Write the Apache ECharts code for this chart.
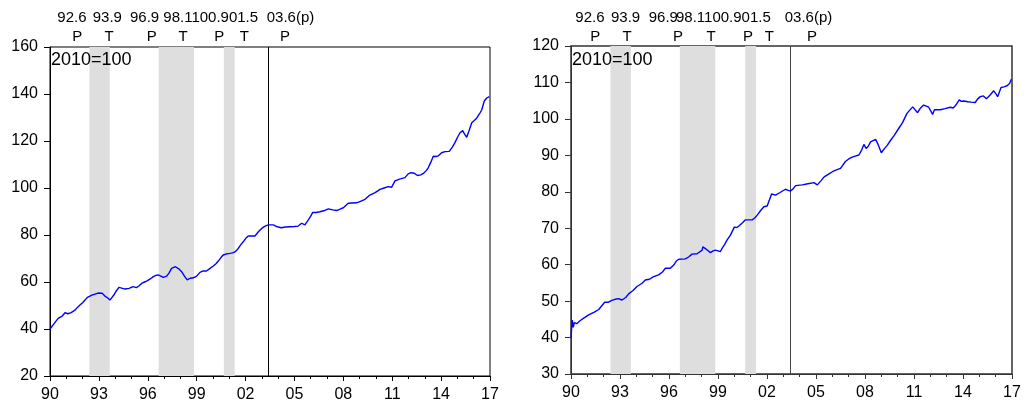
<!DOCTYPE html>
<html>
<head>
<meta charset="utf-8">
<script src="https://cdn.jsdelivr.net/npm/echarts@6/dist/echarts.min.js"></script>
<style>html,body{margin:0;padding:0;background:#fff}#c{width:1024px;height:404px}</style>
</head>
<body>
<div id="c"></div>
<script>
// ---- data ----
const years1 = [1990.00,1990.25,1990.50,1990.75,1990.92,1991.10,1991.30,1991.53,1991.70,1991.84,1992.00,1992.15,1992.30,1992.40,1992.60,1992.76,1992.95,1993.07,1993.20,1993.37,1993.55,1993.68,1993.80,1993.95,1994.10,1994.23,1994.40,1994.60,1994.85,1995.10,1995.30,1995.45,1995.62,1995.80,1995.93,1996.15,1996.34,1996.50,1996.64,1996.80,1996.95,1997.16,1997.30,1997.46,1997.70,1997.90,1998.08,1998.25,1998.42,1998.60,1998.80,1999.00,1999.20,1999.40,1999.60,1999.80,2000.02,2000.20,2000.33,2000.50,2000.63,2000.85,2001.04,2001.20,2001.35,2001.50,2001.70,2001.86,2002.00,2002.17,2002.40,2002.58,2002.80,2002.99,2003.20,2003.39,2003.70,2003.95,2004.20,2004.45,2004.72,2005.00,2005.23,2005.44,2005.64,2005.85,2006.00,2006.12,2006.35,2006.56,2006.80,2007.08,2007.35,2007.59,2007.80,2008.00,2008.30,2008.55,2008.82,2009.05,2009.33,2009.63,2009.95,2010.25,2010.50,2010.75,2010.96,2011.17,2011.45,2011.78,2011.98,2012.15,2012.34,2012.55,2012.75,2012.91,2013.10,2013.21,2013.37,2013.52,2013.70,2013.83,2013.93,2014.03,2014.24,2014.50,2014.70,2014.85,2015.00,2015.16,2015.32,2015.45,2015.57,2015.72,2015.88,2016.05,2016.18,2016.35,2016.49,2016.65,2016.80,2016.96];
const vals1 = [40.0,42.3,44.5,45.5,46.9,46.5,47.0,48.0,49.3,50.2,51.2,52.3,53.5,54.2,54.5,54.8,55.3,55.7,55.2,54.0,53.2,52.3,53.0,54.8,56.5,57.7,57.4,57.0,57.3,58.0,57.6,58.3,59.4,60.0,60.4,61.3,62.3,62.8,63.0,62.5,62.0,62.5,63.8,65.8,66.5,65.6,64.4,62.5,60.9,61.6,61.8,62.5,64.1,64.7,64.7,65.7,66.8,67.9,68.9,70.5,71.5,72.0,72.2,72.4,72.8,73.8,75.8,77.1,78.5,79.6,79.6,79.6,81.5,82.8,83.8,84.3,84.3,83.5,83.1,83.4,83.5,83.6,83.8,85.0,84.3,86.4,88.0,89.6,89.6,89.9,90.3,91.1,90.7,90.4,91.0,91.6,93.5,93.6,93.7,94.3,95.2,97.0,98.0,99.4,100.0,100.6,100.3,103.0,103.8,104.4,106.0,106.5,106.3,105.3,105.6,106.2,107.5,108.6,111.0,113.5,113.4,113.7,113.8,115.0,115.5,115.6,117.5,119.3,121.5,123.5,124.4,122.8,121.6,124.5,127.8,128.8,129.7,131.5,133.2,137.0,138.3,138.9];

const years2 = [1990.00,1990.08,1990.14,1990.20,1990.35,1990.55,1990.80,1991.08,1991.40,1991.70,1992.06,1992.30,1992.50,1992.70,1992.90,1993.12,1993.35,1993.53,1993.80,1994.04,1994.35,1994.55,1994.80,1995.06,1995.37,1995.60,1995.78,1996.08,1996.19,1996.29,1996.45,1996.60,1997.00,1997.20,1997.41,1997.72,1998.03,1998.07,1998.23,1998.40,1998.53,1998.70,1998.84,1999.00,1999.15,1999.25,1999.40,1999.56,1999.76,2000.00,2000.15,2000.28,2000.50,2000.68,2001.09,2001.25,2001.40,2001.60,2001.81,2002.01,2002.15,2002.28,2002.52,2002.80,2003.13,2003.30,2003.44,2003.60,2003.75,2004.16,2004.50,2004.87,2005.08,2005.30,2005.50,2005.75,2006.00,2006.25,2006.50,2006.80,2007.00,2007.22,2007.40,2007.63,2007.80,2007.93,2008.07,2008.20,2008.34,2008.65,2008.80,2009.00,2009.20,2009.37,2009.55,2009.78,2010.08,2010.29,2010.57,2010.70,2010.92,2011.00,2011.22,2011.40,2011.59,2011.75,2011.90,2012.05,2012.14,2012.25,2012.37,2012.61,2012.90,2013.22,2013.40,2013.53,2013.77,2013.90,2014.04,2014.30,2014.50,2014.75,2014.90,2015.06,2015.25,2015.43,2015.65,2015.88,2016.00,2016.12,2016.33,2016.50,2016.70,2016.85,2016.96];
const vals2 = [40.1,44.8,42.8,44.1,43.8,44.6,45.4,46.2,46.9,47.7,49.7,49.7,50.2,50.5,50.7,50.3,51.0,52.0,52.9,54.0,54.9,55.8,56.0,56.7,57.2,58.0,59.0,59.0,58.8,59.9,61.0,61.5,61.6,62.1,62.9,63.0,64.0,64.9,64.4,63.8,63.3,63.8,64.0,63.8,63.6,64.5,65.5,66.8,68.1,70.3,70.2,70.6,71.5,72.3,72.3,72.8,73.6,74.8,75.9,76.1,77.8,79.4,79.1,79.8,80.7,80.4,80.2,80.8,81.7,81.9,82.2,82.5,81.9,83.0,84.1,84.8,85.5,86.0,86.4,88.3,89.0,89.5,89.8,90.1,91.5,93.0,91.9,92.5,93.7,94.4,93.0,90.7,91.9,92.8,94.0,95.4,97.5,98.9,101.5,102.2,103.3,103.4,101.7,103.0,103.8,103.5,103.2,102.0,101.2,102.5,102.9,102.5,102.8,103.2,103.0,103.6,105.2,104.8,104.9,104.7,104.6,104.5,105.5,106.1,106.3,105.5,106.5,107.7,107.0,106.1,108.6,108.8,109.1,109.7,110.9];

const bandStart = [1992.417, 1996.667, 2000.667];
const bandEnd   = [1993.667, 1998.833, 2001.333];
const lastPeak = 2003.417;
const cycleText = ['92.6', '93.9', '96.9', '98.1100.901.5', '03.6(p)'];
const cycleLetters = ['P', 'T', 'P', 'T', 'P', 'T', 'P'];
const baseLabel = '2010=100';

// ---- layout (pixels) ----
const textX = [[57.3, 92.7, 130, 163.3, 266.7], [575.3, 611, 648.7, 676, 784.7]];
const letterX = [[77.3, 109, 151.7, 183, 219.3, 244.3, 285], [595.3, 627, 678, 711, 748, 769.3, 812]];
const FONT = '"Liberation Sans", Arial, sans-serif';

function pairs(xs, ys) { return xs.map((x, i) => [x, ys[i]]); }
const areas = bandStart.map((s, i) => [{ xAxis: s }, { xAxis: bandEnd[i] }]);

function xAx(idx, col) {
  return {
    type: 'value', gridIndex: idx, min: 1990, max: 2017, interval: 3,
    axisLine: { show: true, lineStyle: { color: col, width: 1 } },
    axisTick: { show: true, length: 5, lineStyle: { color: col } },
    minorTick: { show: true, splitNumber: 3, length: 3, lineStyle: { color: col } },
    splitLine: { show: false },
    axisLabel: { color: '#000', fontSize: 16, fontFamily: FONT, margin: 11,
      formatter: v => String(Math.round(v) % 100).padStart(2, '0') }
  };
}
function yAx(idx, min, max, step, col) {
  return {
    type: 'value', gridIndex: idx, min: min, max: max, interval: step,
    axisLine: { show: true, lineStyle: { color: col, width: 1 } },
    axisTick: { show: true, length: 6, lineStyle: { color: col } },
    splitLine: { show: false },
    axisLabel: { color: '#000', fontSize: 16, fontFamily: FONT, margin: 12 }
  };
}
function series(idx, data, lineCol) {
  return {
    type: 'line', xAxisIndex: idx, yAxisIndex: idx, data: data,
    showSymbol: false, symbol: 'none', animation: false, z: 5,
    lineStyle: { color: '#0000ff', width: 1.4 },
    markArea: { silent: true, itemStyle: { color: '#dedede' }, data: areas },
    markLine: { silent: true, symbol: 'none', label: { show: false },
      lineStyle: { color: lineCol, width: 1, type: 'solid' }, data: [{ xAxis: lastPeak }] }
  };
}

const graphic = [];
[0, 1].forEach(g => {
  textX[g].forEach((x, i) => graphic.push({ type: 'text', x: x, y: 18,
    style: { text: cycleText[i], fill: '#000', font: '15px ' + FONT, align: 'left', verticalAlign: 'middle' } }));
  letterX[g].forEach((x, i) => graphic.push({ type: 'text', x: x, y: 37,
    style: { text: cycleLetters[i], fill: '#000', font: '15px ' + FONT, align: 'center', verticalAlign: 'middle' } }));
  graphic.push({ type: 'text', x: g === 0 ? 51 : 572, y: 60, z: 10,
    style: { text: baseLabel, fill: '#000', font: '18px ' + FONT, align: 'left', verticalAlign: 'middle' } });
});

const chart = echarts.init(document.getElementById('c'), null, { renderer: 'canvas' });
chart.setOption({
  animation: false,
  backgroundColor: '#fff',
  grid: [
    { left: 50, top: 47, width: 440, height: 329, show: true, borderColor: '#000', borderWidth: 1, backgroundColor: 'transparent' },
    { left: 571, top: 46, width: 441, height: 328, show: true, borderColor: '#333', borderWidth: 1.5, backgroundColor: 'transparent' }
  ],
  xAxis: [xAx(0, '#000'), xAx(1, '#333')],
  yAxis: [yAx(0, 20, 160, 20, '#000'), yAx(1, 30, 120, 10, '#333')],
  series: [series(0, pairs(years1, vals1), '#000'), series(1, pairs(years2, vals2), '#444')],
  graphic: graphic
});
</script>
</body>
</html>
